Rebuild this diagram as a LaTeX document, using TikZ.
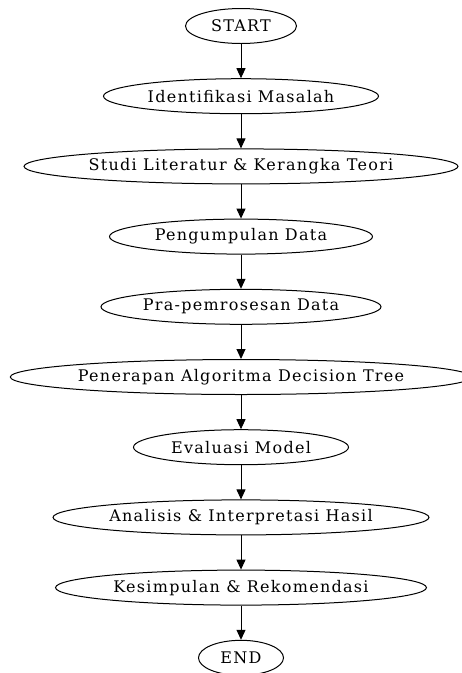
\documentclass[tikz,border=0pt]{standalone}
\usepackage{fontspec}
\setmainfont[LetterSpace=8]{DejaVu Serif}
\usetikzlibrary{shapes,arrows.meta,positioning}

\begin{document}
\begin{tikzpicture}[x=1pt, y=-1pt, every node/.style={font=\fontsize{16}{18}\selectfont}]
    \tikzset{stage/.style={draw, ellipse, inner sep=0pt, minimum height=35pt, line width=1pt},
             flow/.style={-{Triangle[length=10pt,width=9pt]}, line width=1pt}}
    \useasboundingbox (0,0) rectangle (462,673);
    % Stages of the research flow.
    \foreach \i/\w/\txt in {0/111/START,
                            1/275/Identifikasi Masalah,
                            2/434/Studi Literatur \& Kerangka Teori,
                            3/263/Pengumpulan Data,
                            4/280/Pra-pemrosesan Data,
                            5/456/Penerapan Algoritma Decision Tree,
                            6/215/Evaluasi Model,
                            7/376/Analisis \& Interpretasi Hasil,
                            8/371/Kesimpulan \& Rekomendasi,
                            9/85/END}
    {
        \pgfmathsetmacro\ypos{26+70.2*\i}
        \node[stage, minimum width=\w pt] (s\i) at (241,\ypos) {\txt};
    }
    % Arrows between consecutive stages.
    \foreach \i [evaluate=\i as \j using int(\i+1)] in {0,...,8}
        \draw[flow] (s\i) -- (s\j);
\end{tikzpicture}
\end{document}
